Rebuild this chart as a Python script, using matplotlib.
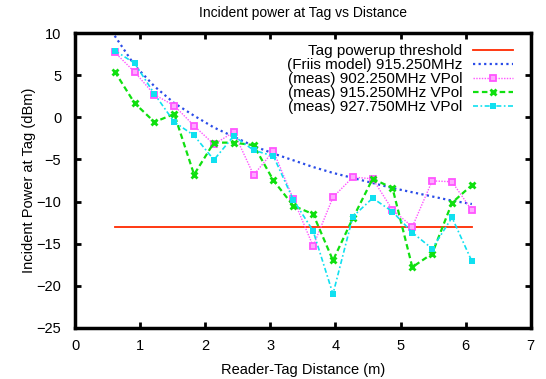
import numpy as np
import matplotlib
matplotlib.use("Agg")
import matplotlib.pyplot as plt

plt.rcParams['font.family'] = ['Liberation Sans', 'DejaVu Sans']
plt.rcParams['font.size'] = 10.5

# distances: 2 ft .. 20 ft, in metres
distance_ft = [2, 3, 4, 5, 6, 7, 8, 9, 10, 11, 12, 13, 14, 15, 16, 17, 18, 19, 20]
distance_m = [d * 0.3048 for d in distance_ft]

threshold_x = [0.6096, 6.096]
threshold_y = [-13.0, -13.0]

friis_915 = [9.7, 6.2, 3.7, 1.7, 0.2, -1.2, -2.3, -3.4, -4.3, -5.1,
             -5.9, -6.6, -7.2, -7.8, -8.4, -8.9, -9.4, -9.9, -10.3]
meas_902 = [7.75, 5.4, 2.7, 1.4, -1.0, -3.2, -1.75, -6.85, -4.0, -9.7,
            -15.3, -9.5, -7.1, -7.3, -11.0, -13.0, -7.55, -7.65, -11.05]
meas_915 = [5.45, 1.7, -0.55, 0.4, -6.8, -3.0, -3.0, -3.3, -7.5, -10.5,
            -11.5, -17.0, -12.0, -7.3, -8.4, -17.8, -16.2, -10.15, -8.05]
meas_927 = [7.95, 6.45, 2.8, -0.55, -2.15, -5.05, -2.2, -3.9, -4.6, -9.8,
            -13.5, -21.0, -11.8, -9.6, -11.2, -13.7, -15.6, -11.9, -17.1]

fig = plt.figure(figsize=(5.46, 3.79), dpi=100)
ax = fig.add_axes([0.1374, 0.1354, 0.8346, 0.7768])

ax.plot(threshold_x, threshold_y, color='#ff2a00', lw=1.3, label='Tag powerup threshold')
ax.plot(distance_m, friis_915, color='#2a4ce8', lw=1.6, linestyle=(0, (1, 1.5)),
        label='(Friis model) 915.250MHz')
ax.plot(distance_m, meas_902, color='#ff55ff', lw=1.0, linestyle=(0, (1, 1)),
        marker='s', markersize=4.5, markerfacecolor='#ffaaff', markeredgewidth=1.3,
        label='(meas) 902.250MHz VPol')
ax.plot(distance_m, meas_915, color='#10e010', lw=1.6, linestyle=(0, (2.5, 1.5)),
        marker='x', markersize=4.5, markeredgewidth=2.0,
        label='(meas) 915.250MHz VPol')
ax.plot(distance_m, meas_927, color='#10e0f0', lw=1.2, linestyle=(0, (3, 1.5, 1, 1.5)),
        marker='s', markersize=4, markeredgewidth=0,
        label='(meas) 927.750MHz VPol')

ax.set_xlim(0, 7)
ax.set_ylim(-25, 10)
ax.set_xticks(range(0, 8))
ax.set_yticks(range(-25, 11, 5))
ax.tick_params(direction='in', length=4, width=2, top=True, right=True)
ax.tick_params(axis='x', pad=8)
ax.tick_params(axis='y', pad=10)
for s in ax.spines.values():
    s.set_linewidth(2.5)

ax.set_title('Incident power at Tag vs Distance', fontsize=10, pad=12)
ax.set_xlabel('Reader-Tag Distance (m)', labelpad=7)
ax.set_ylabel('Incident Power at Tag (dBm)', labelpad=0)

ax.legend(loc='upper right', bbox_to_anchor=(0.985, 1.0), frameon=False,
          markerfirst=False, handlelength=2.6, handletextpad=0.75,
          labelspacing=0.0, borderaxespad=0.3, fontsize=11)

fig.savefig('out.png', dpi=100)
